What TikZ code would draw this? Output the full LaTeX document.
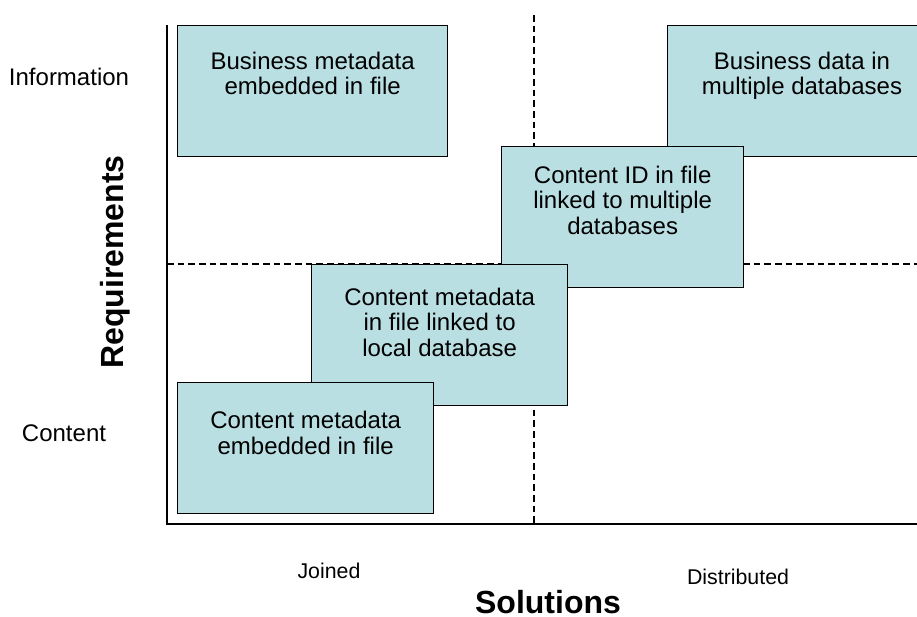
\documentclass[tikz,border=0pt]{standalone}
\usepackage{fontspec}
\setmainfont{Liberation Sans}
\definecolor{boxfill}{RGB}{186,223,227}
\begin{document}
\begin{tikzpicture}%
	[x=0.75pt, y=-0.75pt,
	axis/.style={line width=1.1pt},
	divider/.style={line width=0.9pt, dash pattern=on 5pt off 3pt},
	box/.style={draw, line width=1pt, fill=boxfill, rectangle, anchor=north west, inner sep=0pt},
	boxtext/.style={anchor=north, align=center, inner sep=0pt, font=\fontsize{18}{19}\selectfont},
	side/.style={font=\fontsize{18}{20}\selectfont},
	tick/.style={font=\fontsize{16}{18}\selectfont},
	title/.style={inner sep=0pt, font=\fontsize{24}{26}\selectfont\bfseries}]
%%
\useasboundingbox (0,0) rectangle (917,617);
%%
%% Corners of the chart
%%
\coordinate (top) at (167,25);
\coordinate (origin) at (167,524);
\coordinate (right) at (917,524);
%%
%% Dashed quadrant dividers
%%
\coordinate (vtop) at (534,15);
\coordinate (vbot) at (534,524);
\coordinate (hleft) at (167,264);
\coordinate (hright) at (917,264);
\draw[divider] (vtop) -- (vbot);
\draw[divider] (hleft) -- (hright);
%%
%% Axes
%%
\draw[axis] (top) -- (origin) -- (right);
%%
%% Boxes, back to front (sizes in pt)
%%
\node[box, minimum width=202.5pt, minimum height=98.25pt] (bizmeta) at (177,25) {};
\node[box, minimum width=195pt, minimum height=98.25pt] (bizdata) at (667,25) {};
\node[box, minimum width=181.5pt, minimum height=105.75pt] (cid) at (501,146) {};
\node[box, minimum width=192pt, minimum height=105.75pt] (localdb) at (311,264) {};
\node[box, minimum width=192pt, minimum height=98.25pt] (embed) at (177,382) {};
%%
\node[boxtext, below=20pt] at (bizmeta.north) {Business metadata\\embedded in file};
\node[boxtext, below=20pt] at (bizmeta.north -| 802,0) {Business data in\\multiple databases};
\node[boxtext, below=15pt] at (cid.north) {Content ID in file\\linked to multiple\\databases};
\node[boxtext, below=18pt] at (localdb.north) {Content metadata\\in file linked to\\local database};
\node[boxtext, below=22pt] at (embed.north) {Content metadata\\embedded in file};
%%
%% Axis labels
%%
\node[side] (info) at (69,77) {Information};
\node[side] (content) at (64,433) {Content};
\node[tick] (joined) at (329,571) {Joined};
\node[tick] (distrib) at (738,577) {Distributed};
\node[title, rotate=90] (req) at (115,262) {Requirements};
\node[title] (sol) at (548,602) {Solutions};
%%
\end{tikzpicture}
\end{document}
